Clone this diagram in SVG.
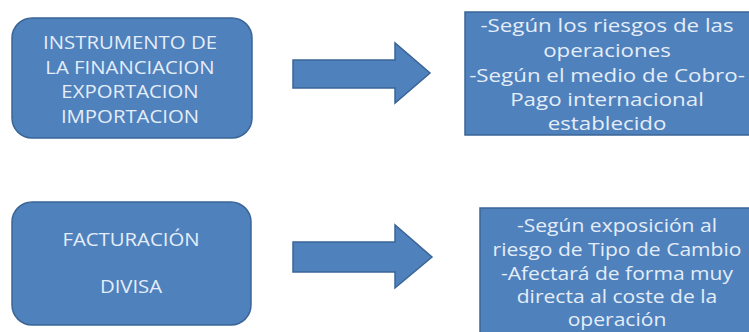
<svg xmlns="http://www.w3.org/2000/svg" width="749" height="332" viewBox="0 0 749 332">
<style>
.box{fill:#4f81bd;stroke:#3b6596;stroke-width:1.5}
.arr{fill:#4f81bd;stroke:#3b6596;stroke-width:1.5}
.t{font-family:"Open Sans","Liberation Sans",sans-serif;fill:#e4edf8;text-anchor:middle;font-weight:500}
.l{font-size:18px}
.r{font-size:18px}
</style>
<rect width="749" height="332" fill="#ffffff"/>
<g id="node-instrumento">
<rect class="box" x="12" y="18" width="240" height="120" rx="20"/>
<g transform="translate(130,0) scale(1.13,1) translate(-130,0)">
<text class="t l" x="130" y="49">INSTRUMENTO DE</text>
<text class="t l" x="130" y="74">LA FINANCIACION</text>
<text class="t l" x="130" y="98">EXPORTACION</text>
<text class="t l" x="130" y="123">IMPORTACION</text>
</g>
</g>
<g id="node-riesgos">
<rect class="box" x="465" y="12" width="290" height="123"/>
<g transform="translate(607,0) scale(1.24,1) translate(-607,0)">
<text class="t r" x="607" y="32">-Según los riesgos de las</text>
<text class="t r" x="607" y="57">operaciones</text>
<text class="t r" x="607" y="82">-Según el medio de Cobro-</text>
<text class="t r" x="607" y="106">Pago internacional</text>
<text class="t r" x="607" y="130">establecido</text>
</g>
</g>
<g id="node-facturacion">
<rect class="box" x="12" y="202" width="239" height="123" rx="20"/>
<g transform="translate(131,0) scale(1.13,1) translate(-131,0)">
<text class="t l" x="131" y="246">FACTURACIÓN</text>
<text class="t l" x="131" y="293">DIVISA</text>
</g>
</g>
<g id="node-exposicion">
<rect class="box" x="480" y="208" width="275" height="130"/>
<g transform="translate(617,0) scale(1.17,1) translate(-617,0)">
<text class="t r" x="617" y="232">-Según exposición al</text>
<text class="t r" x="617" y="256">riesgo de Tipo de Cambio</text>
<text class="t r" x="617" y="280">-Afectará de forma muy</text>
<text class="t r" x="617" y="303">directa al coste de la</text>
<text class="t r" x="617" y="326">operación</text>
</g>
</g>
<g id="connectors">
<polygon class="arr" points="293,60 395,60 395,43 430,73 395,103 395,88 293,88"/>
<polygon class="arr" points="293,242 395,242 395,225 432,257 395,288 395,272 293,272"/>
</g>
</svg>
